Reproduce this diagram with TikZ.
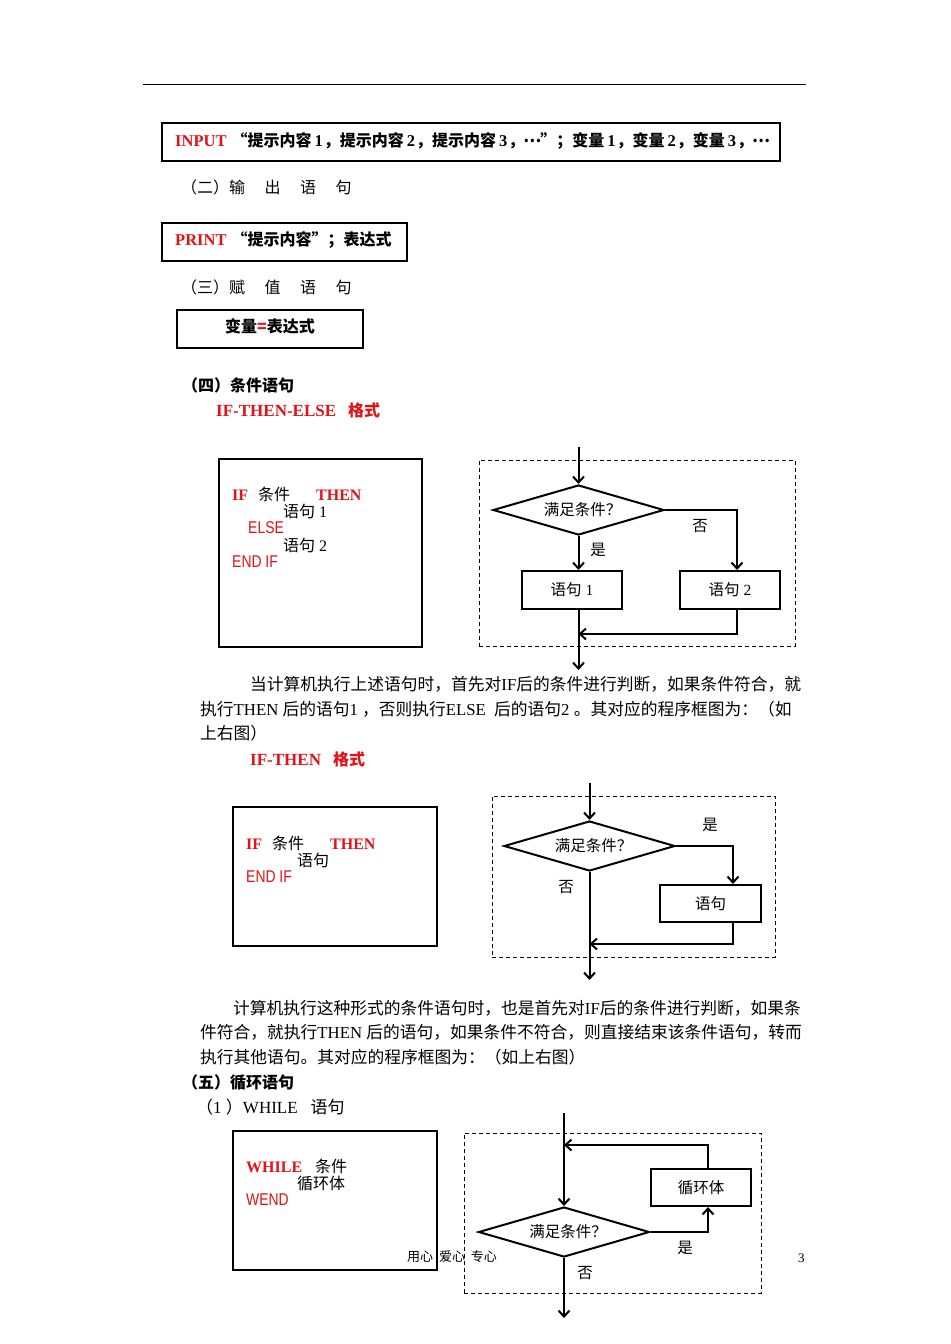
\documentclass[tikz,border=0pt]{standalone}
\usepackage{fontspec}
\setmainfont{Noto Sans CJK SC}
\newfontfamily\tm{Liberation Serif}
\newfontfamily\narrowsans[FakeStretch=0.82]{Liberation Sans}
\usetikzlibrary{shapes.geometric,arrows.meta}
\definecolor{kwred}{RGB}{226,18,22}
\newcommand{\kw}[1]{{\tm\bfseries\color{kwred}#1}}
\newcommand{\kwb}[1]{{\fontsize{16.5bp}{19bp}\selectfont\kw{#1}}}
\newcommand{\kwn}[1]{{\fontsize{17bp}{19bp}\narrowsans\color{kwred}#1}}
\newcommand{\la}[1]{{\tm #1}}
\newcommand{\dg}[1]{\hspace{3bp}{\fontsize{16.5bp}{19bp}\tm\bfseries #1}\hspace{1bp}}
\newcommand{\fw}[1]{\makebox[16bp]{#1}}
\newcommand{\mdots}{\makebox[16bp]{\raisebox{4bp}{…}}}

\tikzset{
  txt/.style={anchor=west,inner sep=0pt,font=\fontsize{16.75bp}{20bp}\selectfont},
  head/.style={anchor=west,inner sep=0pt,font=\fontsize{16bp}{19bp}\selectfont\bfseries},
  codetxt/.style={anchor=west,inner sep=0pt,font=\fontsize{16bp}{19bp}\selectfont},
  codeframe/.style={draw,line width=2bp,inner sep=0pt},
  dashframe/.style={draw,dash pattern=on 4bp off 3bp,line width=1bp,inner sep=0pt},
  stepbox/.style={draw,line width=2bp,inner sep=0pt,font=\fontsize{15.5bp}{18bp}\selectfont},
  decision/.style={draw,diamond,line width=2bp,inner sep=0pt,aspect=3.4,
    minimum width=171bp,minimum height=50bp,font=\fontsize{15.5bp}{18bp}\selectfont},
  flow/.style={line width=2bp,-{Straight Barb[length=6bp,width=11bp]}},
  lbl/.style={inner sep=0pt,font=\fontsize{15.5bp}{18bp}\selectfont},
}

\begin{document}
\begin{tikzpicture}[x=1bp,y=-1bp]
  \useasboundingbox[fill=white] (0,0) rectangle (950,1344);
  \draw[line width=1bp] (143,85) -- (806,85);

  % input / print / assign
  \node[codeframe,minimum width=618bp,minimum height=38bp] (inputbox) at (471,142) {};
  \node[head] (inputtxt) at (175,141) {\kwb{INPUT}\hspace{5bp}\fw{“}提示内容\dg{1}，提示内容\dg{2}，提示内容\dg{3}，\mdots\fw{”}；变量\dg{1}，变量\dg{2}，变量\dg{3}，\mdots};
  \node[txt,font=\fontsize{16bp}{19bp}\selectfont] (outhead) at (181,187) {（二）输\hspace{19.5bp}出\hspace{19.5bp}语\hspace{19.5bp}句};
  \node[codeframe,minimum width=245bp,minimum height=38bp] (printbox) at (284.5,242) {};
  \node[head] (printtxt) at (175,240) {\kwb{PRINT}\hspace{5bp}\fw{“}提示内容\fw{”}；表达式};
  \node[txt,font=\fontsize{16bp}{19bp}\selectfont] (assignhead) at (181,287) {（三）赋\hspace{19.5bp}值\hspace{19.5bp}语\hspace{19.5bp}句};
  \node[codeframe,minimum width=186bp,minimum height=38bp] (assignbox) at (270,329) {};
  \node[head,anchor=center] (assigntxt) at (270,326) {变量{\color{kwred}=}表达式};

  % IF-THEN-ELSE
  \node[head] (condhead) at (182,385) {（四）条件语句};
  \node[head] (ifelsehead) at (216,410) {{\fontsize{17bp}{19bp}\selectfont\kw{IF-THEN-ELSE}}\hspace{12bp}{\color{kwred}格式}};
  \node[codeframe,minimum width=203bp,minimum height=188bp] (ifelsebox) at (320.5,553) {};
  \node[codetxt] (ie1) at (232,494) {\kw{IF}\hspace{10bp}条件\hspace{26bp}\kw{THEN}};
  \node[codetxt] (ie2) at (283,511) {语句\la{ 1}};
  \node[codetxt] (ie3) at (248,528) {\kwn{ELSE}};
  \node[codetxt] (ie4) at (283,545) {语句\la{ 2}};
  \node[codetxt] (ie5) at (232,562) {\kwn{END IF}};

  \node[dashframe,minimum width=316bp,minimum height=186bp] (frame1) at (637,553) {};
  \node[decision] (cond1) at (578.5,510) {\hspace{8bp}满足条件？};
  \node[stepbox,minimum width=100bp,minimum height=38bp] (then1) at (572,590) {语句\la{ 1}};
  \node[stepbox,minimum width=100bp,minimum height=38bp] (else1) at (730,590) {语句\la{ 2}};
  \coordinate (top1) at (578.5,447);
  \coordinate (join1) at (578.5,634);
  \coordinate (exit1) at (578.5,670);
  \draw[flow] (top1) -- (cond1.north);
  \draw[flow] (cond1.south) -- (cond1.south |- then1.north);
  \draw[flow] (cond1.east) -| ([xshift=7bp]else1.north);
  \draw[flow] ([xshift=7bp]else1.south) |- (join1);
  \draw[flow] (cond1.south |- then1.south) -- (exit1);
  \node[lbl] (yes1) at (598,550) {是};
  \node[lbl] (no1) at (700,526) {否};

  \node[txt] (p1a) at (250,684) {当计算机执行上述语句时，首先对\la{IF}后的条件进行判断，如果条件符合，就};
  \node[txt] (p1b) at (200,709) {执行\la{THEN }后的语句\la{1 }，否则执行\la{ELSE\ \ }后的语句\la{2 }。其对应的程序框图为：（如};
  \node[txt] (p1c) at (200,733) {上右图）};

  % IF-THEN
  \node[head] (ifhead) at (250,759) {{\fontsize{17bp}{19bp}\selectfont\kw{IF-THEN}}\hspace{12bp}{\color{kwred}格式}};
  \node[codeframe,minimum width=204bp,minimum height=139bp] (ifbox) at (335,876.5) {};
  \node[codetxt] (if1) at (246,843) {\kw{IF}\hspace{10bp}条件\hspace{26bp}\kw{THEN}};
  \node[codetxt] (if2) at (297,860) {语句};
  \node[codetxt] (if3) at (246,877) {\kwn{END IF}};

  \node[dashframe,minimum width=283bp,minimum height=161bp] (frame2) at (633.5,876.5) {};
  \node[decision] (cond2) at (589.5,846) {\hspace{8bp}满足条件？};
  \node[stepbox,minimum width=101bp,minimum height=37bp] (stmt2) at (710.5,903.5) {语句};
  \coordinate (top2) at (589.5,783);
  \coordinate (join2) at (589.5,944);
  \coordinate (exit2) at (589.5,980);
  \draw[flow] (top2) -- (cond2.north);
  \draw[flow] (cond2.east) -| ([xshift=22.5bp]stmt2.north);
  \draw[flow] ([xshift=22.5bp]stmt2.south) |- (join2);
  \draw[flow] (cond2.south) -- (exit2);
  \node[lbl] (yes2) at (710,825) {是};
  \node[lbl] (no2) at (566,887) {否};

  \node[txt] (p2a) at (233,1008) {计算机执行这种形式的条件语句时，也是首先对\la{IF}后的条件进行判断，如果条};
  \node[txt] (p2b) at (200,1032) {件符合，就执行\la{THEN }后的语句，如果条件不符合，则直接结束该条件语句，转而};
  \node[txt] (p2c) at (200,1057) {执行其他语句。其对应的程序框图为：（如上右图）};

  % WHILE
  \node[head] (loophead) at (182,1082) {（五）循环语句};
  \node[txt,font=\fontsize{17bp}{19bp}\selectfont] (whilehead) at (196,1107) {（\la{1 }）\la{WHILE}\hspace{13bp}语句};
  \node[codeframe,minimum width=204bp,minimum height=139bp] (whilebox) at (335,1200.5) {};
  \node[codetxt] (wh1) at (246,1166) {\kw{WHILE}\hspace{13bp}条件};
  \node[codetxt] (wh2) at (297,1183) {循环体};
  \node[codetxt] (wh3) at (246,1200) {\kwn{WEND}};

  \node[dashframe,minimum width=297bp,minimum height=160bp] (frame3) at (612.5,1213) {};
  \node[decision] (cond3) at (564,1232) {\hspace{8bp}满足条件？};
  \node[stepbox,minimum width=100bp,minimum height=37bp] (body3) at (701,1187.5) {循环体};
  \coordinate (top3) at (564,1113);
  \coordinate (loop3) at (564,1145);
  \coordinate (exit3) at (564,1318);
  \draw[flow] (top3) -- (cond3.north);
  \draw[flow] (cond3.east) -| ([xshift=7bp]body3.south);
  \draw[flow] ([xshift=7bp]body3.north) |- (loop3);
  \draw[flow] (cond3.south) -- (exit3);
  \node[lbl] (yes3) at (685,1248) {是};
  \node[lbl] (no3) at (585,1273) {否};

  \node[anchor=west,inner sep=0pt,font=\fontsize{13bp}{15bp}\selectfont] (footer) at (407,1257) {用心\ \ 爱心\ \ 专心};
  \node[anchor=west,inner sep=0pt,font=\fontsize{13bp}{15bp}\selectfont] (pageno) at (798,1258) {\la{3}};
\end{tikzpicture}
\end{document}
